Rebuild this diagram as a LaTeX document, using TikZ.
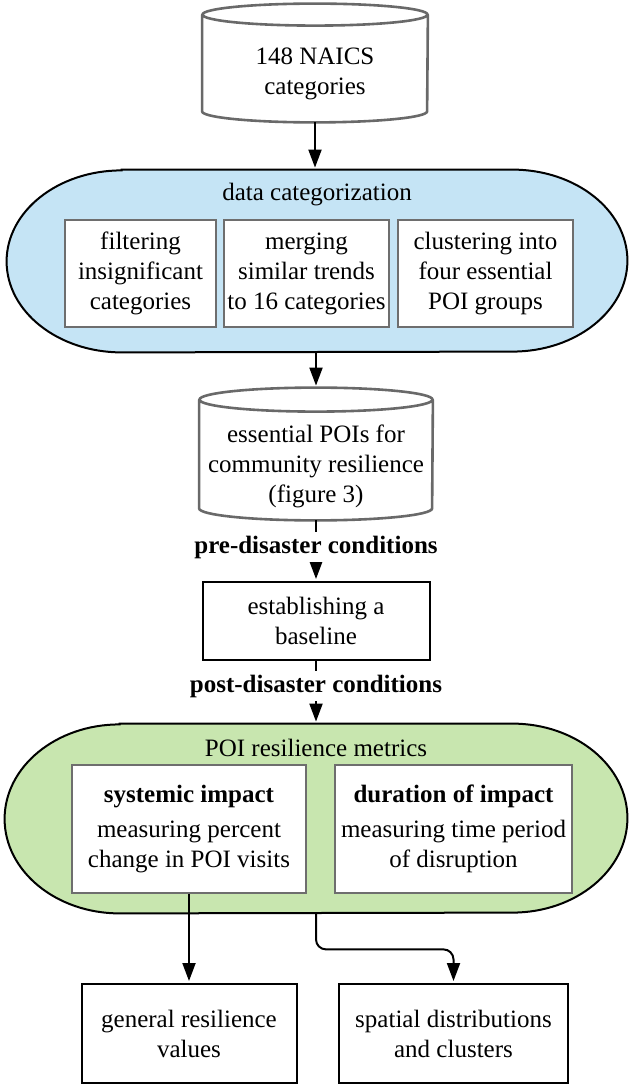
\documentclass[tikz,border=0pt]{standalone}
\usepackage{fontspec}
\setmainfont{Liberation Serif}
\usetikzlibrary{arrows.meta,calc}

\definecolor{catblue}{RGB}{197,228,245}
\definecolor{metgreen}{RGB}{200,230,175}
\definecolor{dbgray}{RGB}{105,105,105}
\definecolor{subgray}{RGB}{110,110,110}

% outline of a database drum round node #1 (half width #2, lid radius #3)
\newcommand\dbshape[3]{%
  \draw[dbgray,line width=1.3pt] ([yshift=#3]#1.north) ellipse[x radius=#2,y radius=#3]
    ([yshift=#3]#1.north west) -- ([yshift=#3]#1.south west)
    arc[start angle=180,end angle=360,x radius=#2,y radius=#3] -- ([yshift=#3]#1.north east);}
% rounded stage round node #1, filled with #2
\newcommand\blob[4]{%
  \draw[line width=1pt,fill=#2] ([xshift=#3]#1.north west) -- ([xshift=-#3]#1.north east)
    arc[start angle=90,end angle=-90,x radius=#3,y radius=#4] -- ([xshift=#3]#1.south west)
    arc[start angle=270,end angle=90,x radius=#3,y radius=#4] -- cycle;}

\tikzset{
  every node/.style={font=\fontsize{12.5}{15}\selectfont, align=center, inner sep=0pt},
  db/.style={minimum width=#1},
  subbox/.style={draw=subgray, line width=0.6pt, fill=white},
  outbox/.style={draw, line width=1pt, fill=white},
  cond/.style={font=\bfseries\fontsize{12.5}{15}\selectfont, fill=white, inner sep=2pt},
  arr/.style={-{Triangle[length=9pt,width=6.5pt]}, line width=1pt, shorten >=1pt}
}

\begin{document}
\begin{tikzpicture}[x=0.5pt,y=-0.5pt]
\useasboundingbox (0,0) rectangle (633,1085);

% input data
\node (cyl1) [db=112.5pt, minimum height=48pt] at (315,74) {148 NAICS\\categories};
\dbshape{cyl1}{56.25pt}{5.5pt}

% data categorization stage
\node (catg) [minimum width=310pt, minimum height=91pt] at (317,261) {};
\blob{catg}{catblue}{57.5pt}{45.5pt}
\node (catgt) at (317,195) {data categorization};
\node (filt) [subbox, minimum width=75.5pt, minimum height=53.5pt] at (140.5,273.5) {filtering\\insignificant\\categories};
\node (merg) [subbox, minimum width=82.5pt, minimum height=53.5pt] at (306.5,273.5) {merging\\similar trends\\to 16 categories};
\node (clus) [subbox, minimum width=87.5pt, minimum height=53.5pt] at (485.5,273.5) {clustering into\\four essential\\POI groups};

% essential POIs
\node (cyl2) [db=116.5pt, minimum height=54pt] at (316,466) {essential POIs for\\community resilience\\(figure 3)};
\dbshape{cyl2}{58.25pt}{6pt}

\node (base) [outbox, minimum width=113.5pt, minimum height=39pt] at (316,621) {establishing a\\baseline};

% resilience metrics stage
\node (metr) [minimum width=311pt, minimum height=94.5pt] at (316,818.5) {};
\blob{metr}{metgreen}{57.5pt}{47.25pt}
\node (metrt) at (316,748) {POI resilience metrics};
\node (sysi) [subbox, minimum width=117pt, minimum height=64pt] at (189,829) {\textbf{systemic impact}\\[2.5pt]measuring percent\\change in POI visits};
\node (dura) [subbox, minimum width=118.5pt, minimum height=64pt] at (453.5,829) {\textbf{duration of impact}\\[2.5pt]measuring time period\\of disruption};

% outputs
\node (genr) [outbox, minimum width=107.5pt, minimum height=49.5pt] at (189,1033.5) {general resilience\\values};
\node (sptl) [outbox, minimum width=114.5pt, minimum height=49.5pt] at (453.5,1033.5) {spatial distributions\\and clusters};

\draw[arr] (cyl1.south) -- (cyl1.south |- catg.north);
\draw[arr] (catg.south -| cyl2.north) -- ([yshift=12pt]cyl2.north);
\draw[arr] (cyl2.south) -- (base.north) node[cond,pos=0.44] {pre-disaster conditions};
\draw[arr] (base.south) -- (base.south |- metr.north) node[cond,pos=0.4] {post-disaster conditions};
\draw[arr] (sysi.south) -- (genr.north);
\draw[arr, rounded corners=5pt] (metr.south) -- ++(0,36) -| (sptl.north);
\end{tikzpicture}
\end{document}
